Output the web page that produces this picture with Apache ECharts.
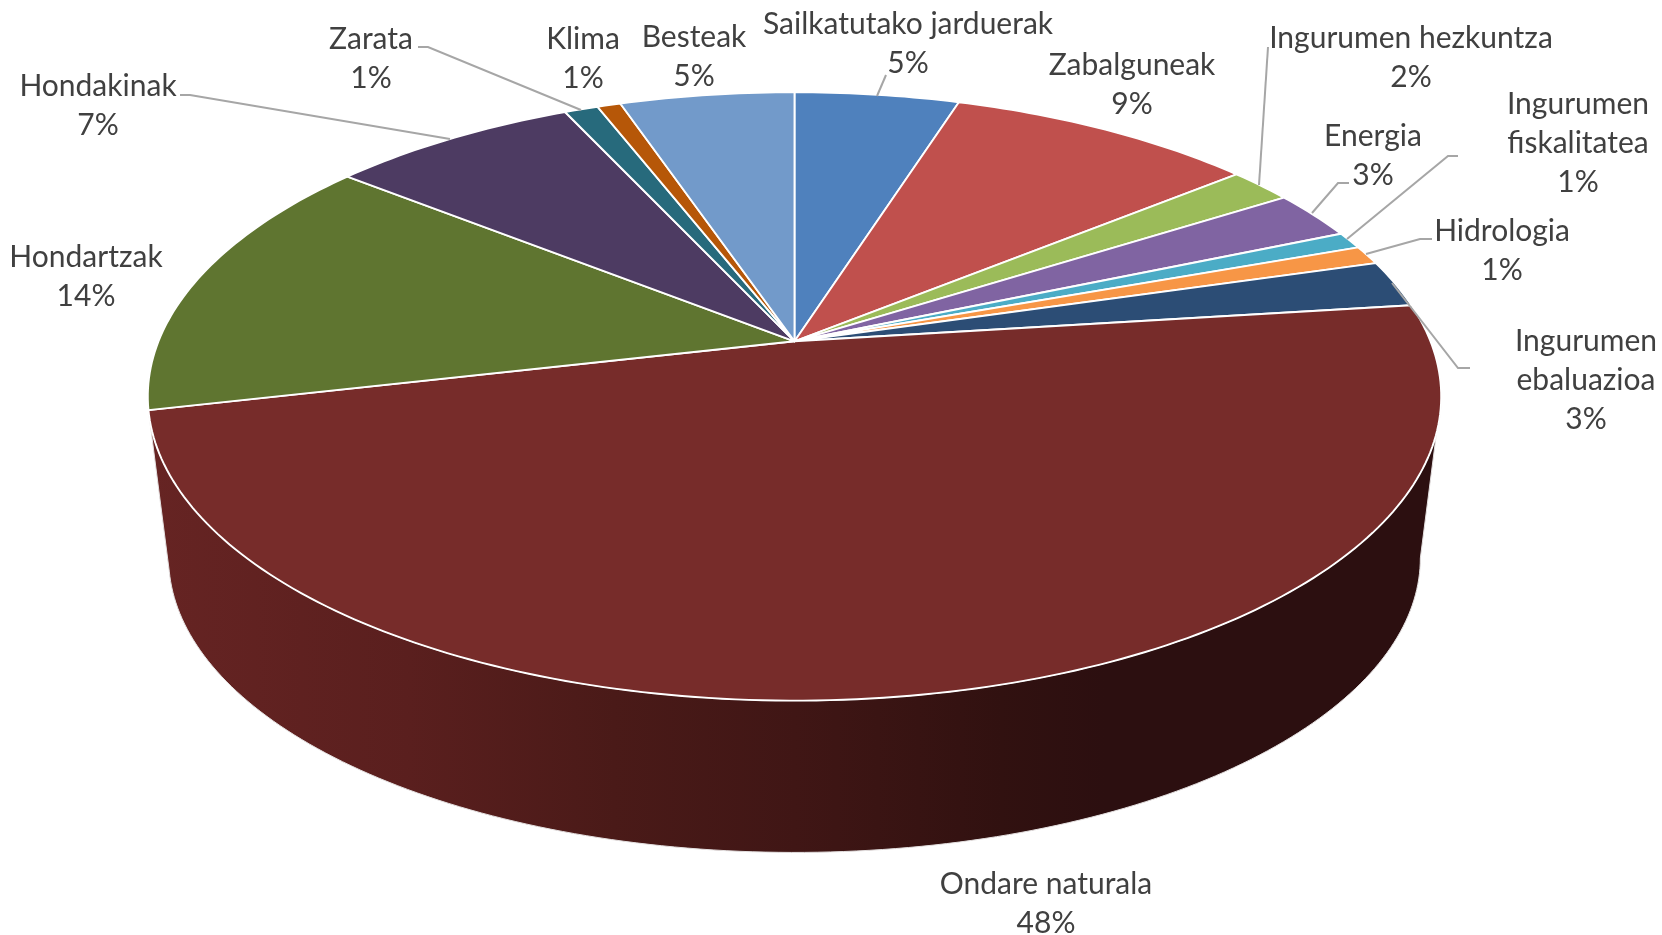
<!DOCTYPE html>
<html><head><meta charset="utf-8">
<style>html,body{margin:0;padding:0;background:#fff}#c{width:1662px;height:935px}</style>
<script src="https://cdn.jsdelivr.net/npm/echarts@6/dist/echarts.min.js"></script>
</head><body><div id="c"></div>
<script>
const categories = ['Sailkatutako jarduerak','Zabalguneak','Ingurumen hezkuntza','Energia','Ingurumen fiskalitatea','Hidrologia','Ingurumen ebaluazioa','Ondare naturala','Hondartzak','Hondakinak','Zarata','Klima','Besteak'];
const shares = [4.9,9.2,1.9,2.6,0.9,1.0,2.5,48.4,14.3,7.4,1.0,0.7,5.2];
const sliceColors = ['#4f81bd','#c0504d','#9bbb59','#8064a2','#4bacc6','#f79646','#2c4d75','#772c2a','#5f7530','#4d3b62','#276a7c','#b65708','#729aca'];
const labelLines = [['Sailkatutako jarduerak'],['Zabalguneak'],['Ingurumen hezkuntza'],['Energia'],['Ingurumen','fiskalitatea'],['Hidrologia'],['Ingurumen','ebaluazioa'],['Ondare naturala'],['Hondartzak'],['Hondakinak'],['Zarata'],['Klima'],['Besteak']];
// label centre [x, y of first line], in page pixels
const labelAt = [[908,24.5],[1132,65],[1411,38],[1373,136],[1578,104],[1502,231],[1586,341],[1046,884],[86,257],[98,86],[371,39],[583,39],[694,37]];
const leaders = [[[886,75],[877,96]],null,[[1268,47],[1259,185]],[[1349,183],[1338,183],[1312,213]],[[1458,156],[1448,156],[1347,239]],[[1432,239],[1420,239],[1366,254]],[[1470,368],[1458,368],[1392,283]],null,null,[[180,95],[190,95],[450,139]],[[418,47],[428,47],[581,110]],null,null];

const total = shares.reduce((a,b)=>a+b,0);
const CX=794.5, K=0.1812;
const TOP={A:636,B:294.2,cy:341.3}, LOW={A:615.5,B:284.8,cy:504.6};
const RIGHT_TANGENT=Math.acos(-K)*180/Math.PI;
function project(d,deg){
  const t=deg*Math.PI/180, u=Math.sin(t), v=-Math.cos(t), w=1-K*v;
  return [CX+d.A*u/w, d.cy+d.B*v/w];
}
function arc(d,a,b){const p=[];const n=Math.max(2,Math.ceil((b-a)/1));for(let i=0;i<=n;i++)p.push(project(d,a+(b-a)*i/n));return p;}
const FONT='30px Lato, "Noto Sans", sans-serif';
const wallFill={type:'linear',global:true,x:150,y:0,x2:1440,y2:0,colorStops:[
 {offset:0,color:'#662423'},{offset:0.2,color:'#5a1f1e'},{offset:0.36,color:'#4a1a18'},{offset:0.5,color:'#401615'},{offset:0.66,color:'#311110'},{offset:0.74,color:'#2c0f10'},{offset:1,color:'#2c0f10'}]};

function renderItem(params,api){
  const i=params.dataIndex, val=api.value(1);
  let before=0; for(let j=0;j<i;j++) before+=shares[j];
  const a=before/total*360, b=(before+val)/total*360, mid=(a+b)/2;
  const kids=[];
  if(mid>90&&mid<250){
    const s=Math.max(a,RIGHT_TANGENT);
    const pts=arc(TOP,s,b).concat(arc(LOW,s,b).reverse());
    kids.push({type:'polygon',z2:1,shape:{points:pts},style:{fill:wallFill,stroke:'#e4e0e0',lineWidth:1}});
  }
  kids.push({type:'polygon',z2:2,shape:{points:[[CX,TOP.cy]].concat(arc(TOP,a,b))},style:{fill:sliceColors[i],stroke:'#fff',lineWidth:1.9,lineJoin:'round'}});
  if(leaders[i]) kids.push({type:'polyline',z2:3,shape:{points:leaders[i]},style:{fill:null,stroke:'#a6a6a6',lineWidth:2}});
  const lines=labelLines[i].concat([Math.round(val/total*100)+'%']);
  const lh=39;
  kids.push({type:'text',z2:4,style:{text:lines.join('\n'),x:labelAt[i][0],y:labelAt[i][1]+(lines.length-1)*lh/2,align:'center',verticalAlign:'middle',font:FONT,lineHeight:lh,fill:'#404040'}});
  return {type:'group',children:kids};
}
const chart=echarts.init(document.getElementById('c'),null,{renderer:'canvas'});
chart.setOption({
  backgroundColor:'#fff',animation:false,
  series:[{type:'custom',coordinateSystem:'none',silent:true,renderItem,
    data:categories.map((n,i)=>[n,shares[i]]),encode:{itemName:0,value:1}}]
});
</script></body></html>
